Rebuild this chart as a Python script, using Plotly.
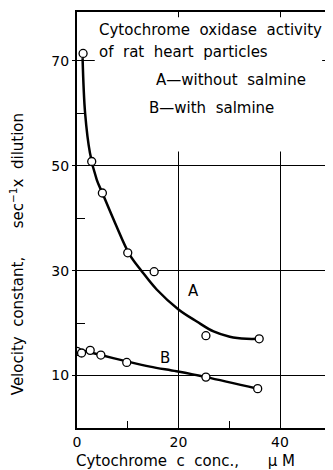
import plotly.graph_objects as go

# ── Data ─────────────────────────────────────────────────────────────────────

# curve A: without salmine (measured points)
A_X = [1.2, 2.9, 5.0, 10.0, 15.2, 25.4, 35.9]
A_Y = [71.4, 50.8, 44.8, 33.4, 29.8, 17.6, 17.0]

# curve A: hand-drawn fitted line
A_LINE_X = [1.1, 1.6, 2.56, 3.9, 5.0, 7.5, 10.4, 12.75, 15.7, 20.0, 23.6, 26.9, 30.1, 33.4, 35.9]
A_LINE_Y = [70.5, 60.0, 52.4, 47.3, 44.8, 39.1, 33.0, 29.9, 26.4, 22.6, 20.3, 18.4, 17.4, 17.0, 17.0]

# curve B: with salmine (measured points)
B_X = [0.0, 0.9, 2.6, 4.7, 9.8, 25.4, 35.6]
B_Y = [14.6, 14.3, 14.8, 13.9, 12.5, 9.7, 7.5]

# curve B: fitted line
B_LINE_X = [0.0, 4.7, 9.8, 14.4, 19.6, 25.4, 35.6]
B_LINE_Y = [15.0, 13.9, 12.7, 11.7, 10.8, 9.7, 7.5]

X_TICKS = [0, 20, 40]
Y_TICKS = [10, 30, 50, 70]

FONT = "DejaVu Sans"

# ── Figure ────────────────────────────────────────────────────────────────────

fig = go.Figure()

for lx, ly in [(A_LINE_X, A_LINE_Y), (B_LINE_X, B_LINE_Y)]:
    fig.add_trace(go.Scatter(
        x=lx, y=ly, mode="lines",
        line=dict(color="black", width=2.5, shape="spline", smoothing=1.0),
        hoverinfo="skip", showlegend=False,
    ))

for px_, py_ in [(A_X, A_Y), (B_X, B_Y)]:
    fig.add_trace(go.Scatter(
        x=px_, y=py_, mode="markers",
        marker=dict(symbol="circle", size=8, color="white",
                    line=dict(color="black", width=1.3)),
        showlegend=False,
    ))

# white box behind the caption text, hiding the grid there
fig.add_shape(type="rect", xref="x", yref="y", x0=3.5, x1=48.3, y0=52.7, y1=78.3,
              fillcolor="white", line_width=0, layer="between")

txt = dict(showarrow=False, xref="x", yref="y", xanchor="left", yanchor="middle",
           font=dict(family=FONT, size=15, color="black"))
fig.add_annotation(text="Cytochrome  oxidase  activity", x=3.9, y=75.9, **txt)
fig.add_annotation(text="of  rat  heart  particles", x=3.9, y=71.7, **txt)
fig.add_annotation(text="A\u2014without  salmine", x=15.2, y=66.4, **txt)
fig.add_annotation(text="B\u2014with  salmine", x=13.8, y=61.0, **txt)
fig.add_annotation(text="A", x=21.4, y=26.1, **txt)
fig.add_annotation(text="B", x=16.0, y=13.4, **txt)

# axis titles
fig.add_annotation(text="Cytochrome  c  conc.,      \u03bc M", xref="paper", yref="paper",
                   x=-0.01, y=-0.08, xanchor="left", yanchor="middle", showarrow=False,
                   font=dict(family=FONT, size=15, color="black"))
fig.add_annotation(text="Velocity  constant,      sec<sup>\u22121</sup>x  dilution",
                   xref="paper", yref="paper", x=-0.234, y=0.418, textangle=-90,
                   xanchor="center", yanchor="middle", showarrow=False,
                   font=dict(family=FONT, size=15, color="black"))

fig.update_xaxes(
    range=[0, 50.44], tickvals=X_TICKS, ticks="", showgrid=True,
    gridcolor="black", gridwidth=1.3, zeroline=False,
    showline=True, linecolor="black", linewidth=2, mirror=True,
    minor=dict(tickvals=[10, 30], ticks="inside", ticklen=7, tickcolor="black",
               tickwidth=1.3, showgrid=False),
    tickfont=dict(family=FONT, size=14, color="black"),
)
fig.update_yaxes(
    range=[0, 79.3], tickvals=Y_TICKS, ticks="outside", ticklen=3, tickcolor="black",
    showgrid=True, gridcolor="black", gridwidth=1.3, zeroline=False,
    showline=True, linecolor="black", linewidth=2,
    minor=dict(tickvals=[20, 40, 60], ticks="inside", ticklen=8, tickcolor="black",
               tickwidth=1.3, showgrid=False),
    tickfont=dict(family=FONT, size=14, color="black"),
)

# the page is drawn 8px in from the window's corner, so the figure is 8px smaller
fig.update_layout(
    width=325, height=462,
    margin=dict(l=69, r=0, t=4, b=42),
    plot_bgcolor="white", paper_bgcolor="white",
    font=dict(family=FONT, color="black"),
)

fig.write_html("out.html")
